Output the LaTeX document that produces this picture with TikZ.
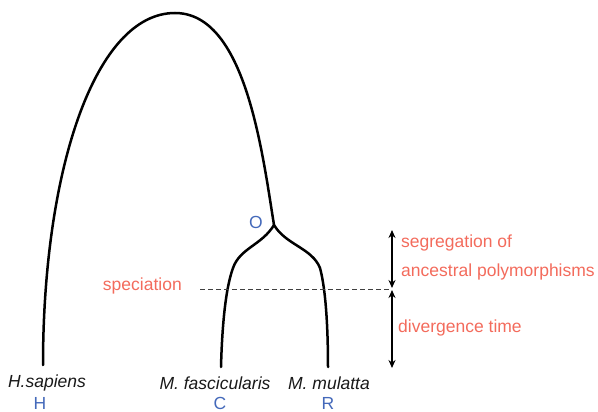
\documentclass[tikz,border=0pt]{standalone}
\usepackage{fontspec}
\setmainfont{Liberation Sans}
\usetikzlibrary{arrows.meta}
\definecolor{salmon}{HTML}{F36B5C}
\definecolor{lblue}{HTML}{4469BA}
\begin{document}
\begin{tikzpicture}[x=1pt,y=-1pt,
  branch/.style={line width=2.5pt,line cap=round},
  redlab/.style={text=salmon,font=\fontsize{17.5}{20}\selectfont,inner sep=0pt},
  bluelab/.style={text=lblue,font=\fontsize{17.5}{20}\selectfont,inner sep=0pt},
  sp/.style={font=\fontsize{17.5}{20}\selectfont\itshape,inner sep=0pt,text=black!90},
  dim/.style={line width=1.4pt,{Stealth[length=8pt,width=7pt]}-{Stealth[length=8pt,width=7pt]}}]
\useasboundingbox (0,0) rectangle (598,412);
% tips and internal points
\coordinate (Htip) at (43,365);
\coordinate (Ctip) at (221,367);
\coordinate (Rtip) at (328,367);
\coordinate (Onode) at (274,225);
\coordinate (top) at (175,13);
% branches
\draw[branch] (Htip) .. controls (43,170) and (95,13) .. (top)
  .. controls (245,13) and (262,150) .. (Onode);
\draw[branch] (Onode) .. controls (262,245) and (240,248) .. (233,268)
  .. controls (225,290) and (222,330) .. (Ctip);
\draw[branch] (Onode) .. controls (286,245) and (312,248) .. (320,268)
  .. controls (326,290) and (328,330) .. (Rtip);
% labels
\node[bluelab] (O) at (256,222) {O};
\node[sp] (Hs) at (47,383) {H.sapiens};
\node[bluelab] (H) at (40,403) {H};
\node[sp] (Mf) at (215,383) {M. fascicularis};
\node[bluelab] (C) at (220,403) {C};
\node[sp] (Mm) at (329,383) {M. mulatta};
\node[bluelab] (R) at (328,403) {R};
\node[redlab,anchor=east] (spec) at (182,286) {speciation};
% dashed line and arrows
\coordinate (dL) at (200,289);
\coordinate (dR) at (390,289);
\draw[dashed,line width=0.8pt,black!75,dash pattern=on 5pt off 3pt] (dL) -- (dR);
\coordinate (a1) at (392,230);
\coordinate (a2) at (392,288);
\coordinate (a3) at (392,290);
\coordinate (a4) at (392,368);
\draw[dim] (a1) -- (a2);
\draw[dim] (a3) -- (a4);
\node[redlab,anchor=west] (seg) at (401,243) {segregation of};
\node[redlab,anchor=west] (anc) at (401,272) {ancestral polymorphisms};
\node[redlab,anchor=west] (div) at (398,328) {divergence time};
\end{tikzpicture}
\end{document}
